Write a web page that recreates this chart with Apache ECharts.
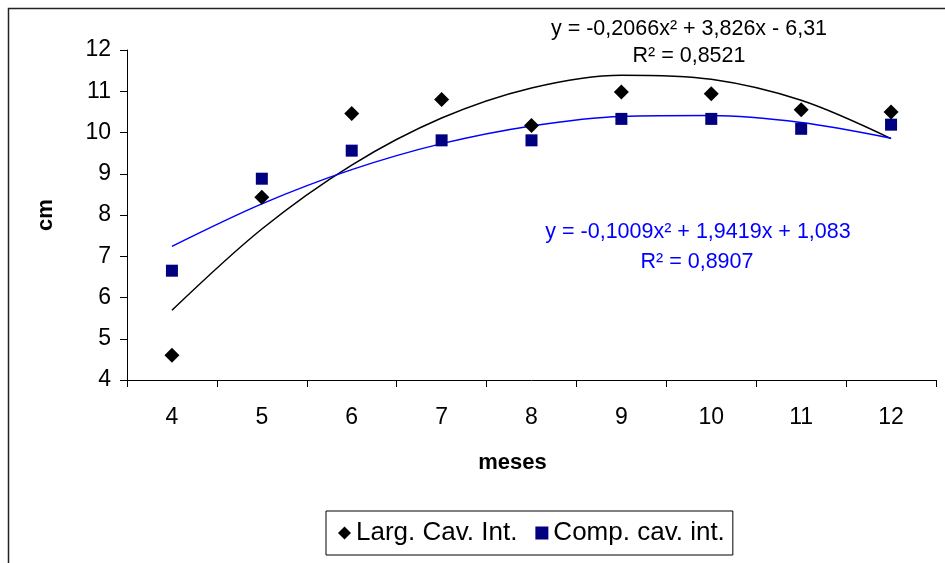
<!DOCTYPE html>
<html>
<head>
<meta charset="utf-8">
<script src="https://cdn.jsdelivr.net/npm/echarts@6/dist/echarts.min.js"></script>
<style>
  html, body { margin: 0; padding: 0; background: #fff; }
  #chart { width: 945px; height: 563px; }
</style>
</head>
<body>
<div id="chart"></div>
<script>
// dados
const meses = ['4', '5', '6', '7', '8', '9', '10', '11', '12'];
const largCavInt = [4.60, 8.43, 10.46, 10.80, 10.17, 10.98, 10.94, 10.55, 10.50];
const compCavInt = [6.65, 8.88, 9.56, 9.81, 9.81, 10.33, 10.33, 10.09, 10.19];
// linhas de tendência (polinomial), valor lido em cada mês
const tendLarg = [5.69, 7.66, 9.21, 10.35, 11.08, 11.39, 11.29, 10.78, 9.85];
const tendComp = [7.24, 8.27, 9.10, 9.73, 10.16, 10.39, 10.41, 10.24, 9.86];
const eqLarg = ['y = -0,2066x² + 3,826x - 6,31', 'R² = 0,8521'];
const eqComp = ['y = -0,1009x² + 1,9419x + 1,083', 'R² = 0,8907'];

const FONT = '"Liberation Sans", Arial, sans-serif';

const chart = echarts.init(document.getElementById('chart'));

const eqText = (txt, x, y, color) => ({
  type: 'text',
  x: x,
  y: y,
  silent: true,
  style: {
    text: txt,
    fill: color,
    font: '21.5px ' + FONT,
    align: 'center',
    verticalAlign: 'middle'
  }
});

const option = {
  animation: false,
  backgroundColor: '#fff',
  grid: {
    left: 127,
    right: 9,
    top: 50,
    bottom: 183
  },
  xAxis: {
    type: 'category',
    data: meses,
    boundaryGap: true,
    name: 'meses',
    nameLocation: 'middle',
    nameGap: 72,
    nameTextStyle: {
      fontFamily: FONT, fontSize: 22, fontWeight: 'bold', color: '#000',
      padding: [0, 38, 0, 0]
    },
    axisLine: { lineStyle: { color: '#000', width: 1 } },
    axisTick: { show: true, length: 7, lineStyle: { color: '#000' } },
    axisLabel: { fontFamily: FONT, fontSize: 23, color: '#000', margin: 26 },
    splitLine: { show: false }
  },
  yAxis: {
    type: 'value',
    min: 4,
    max: 12,
    interval: 1,
    name: 'cm',
    nameLocation: 'middle',
    nameGap: 70,
    nameTextStyle: { fontFamily: FONT, fontSize: 22, fontWeight: 'bold', color: '#000' },
    axisLine: { show: true, lineStyle: { color: '#000', width: 1 } },
    axisTick: { show: true, length: 7, lineStyle: { color: '#000' } },
    axisLabel: { fontFamily: FONT, fontSize: 23, color: '#000', margin: 16 },
    splitLine: { show: false }
  },
  legend: {
    data: [
      { name: 'Larg. Cav. Int.', icon: 'diamond' },
      { name: 'Comp. cav. int.', icon: 'rect' }
    ],
    left: 326,
    top: 511,
    orient: 'horizontal',
    itemWidth: 13,
    itemHeight: 13,
    itemGap: 18,
    padding: [9, 8, 9, 12],
    borderColor: '#000',
    borderWidth: 1,
    textStyle: { fontFamily: FONT, fontSize: 26, color: '#000' }
  },
  graphic: [
    {
      type: 'rect',
      silent: true,
      shape: { x: 8.5, y: 8.5, width: 1000, height: 1000 },
      style: { fill: 'none', stroke: '#222', lineWidth: 1.5 }
    },
    eqText(eqLarg[0], 689, 29, '#000'),
    eqText(eqLarg[1], 689, 56, '#000'),
    eqText(eqComp[0], 698, 232, '#0000ff'),
    eqText(eqComp[1], 697, 262, '#0000ff')
  ],
  series: [
    {
      name: 'tendência Larg.',
      type: 'line',
      data: tendLarg,
      smooth: 0.33,
      showSymbol: false,
      lineStyle: { color: '#000', width: 1.5 },
      z: 2
    },
    {
      name: 'tendência Comp.',
      type: 'line',
      data: tendComp,
      smooth: 0.33,
      showSymbol: false,
      lineStyle: { color: '#0000ff', width: 1.5 },
      z: 2
    },
    {
      name: 'Larg. Cav. Int.',
      type: 'scatter',
      data: largCavInt,
      symbol: 'diamond',
      symbolSize: 15,
      itemStyle: { color: '#000', opacity: 1 },
      z: 3
    },
    {
      name: 'Comp. cav. int.',
      type: 'scatter',
      data: compCavInt,
      symbol: 'rect',
      symbolSize: 12,
      itemStyle: { color: '#000080', opacity: 1 },
      z: 3
    }
  ]
};

chart.setOption(option);
</script>
</body>
</html>
